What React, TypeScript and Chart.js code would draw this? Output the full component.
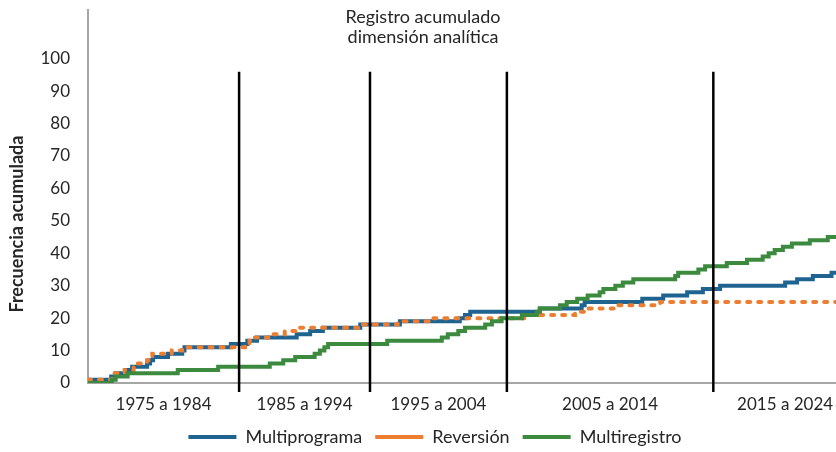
import React, { useEffect, useRef } from 'react';
import { Chart, registerables } from 'chart.js';

Chart.register(...registerables);

// ---- Data ----
const titleLines = ['Registro acumulado', 'dimensión analítica'];
const yAxisTitle = 'Frecuencia acumulada';
const seriesNames = ['Multiprograma', 'Reversión', 'Multiregistro'];
const decadeLabels = ['1975 a 1984', '1985 a 1994', '1995 a 2004', '2005 a 2014', '2015 a 2024'];
// cumulative record position (0-100 visible) where each decade starts / ends
const decadeBounds = [0, 20.2, 37.7, 56.0, 83.6, 102.8];
const yTickValues = [0, 10, 20, 30, 40, 50, 60, 70, 80, 90, 100];
const separatorTop = 96;
const separatorBottom = -2.8;

const multiprogramaX = [0, 3.1, 3.7, 5.2, 5.9, 7.9, 8.3, 8.7, 10.7, 12.6, 12.9, 19.1, 21.3, 22.6, 27.9, 29.7, 31.4, 36.4, 41.7, 49.7, 50.4, 51.1, 60.4, 66.0, 66.4, 74.1, 76.9, 80.1, 82.2, 84.5, 93.2, 94.8, 96.9, 99.4];
const multiprogramaY = [1, 2, 3, 4, 5, 6, 7, 8, 9, 10, 11, 12, 13, 14, 15, 16, 17, 18, 19, 20, 21, 22, 23, 24, 25, 26, 27, 28, 29, 30, 31, 32, 33, 34];

const reversionX = [0, 3.2, 3.5, 4.9, 6.1, 6.3, 7.9, 8.1, 8.6, 11.2, 12.6, 21.0, 21.6, 22.3, 24.1, 26.3, 27.7, 36.1, 41.4, 45.7, 58.7, 65.1, 66.4, 70.5, 76.5];
const reversionY = [1, 2, 3, 4, 5, 6, 7, 8, 9, 10, 11, 12, 13, 14, 15, 16, 17, 18, 19, 20, 21, 22, 23, 24, 25];

const multiregistroX = [0, 3.2, 3.7, 5.3, 12.0, 17.4, 24.3, 26.1, 27.7, 30.3, 31.0, 31.6, 32.1, 40.0, 47.3, 48.1, 49.5, 50.4, 53.1, 54.0, 55.3, 58.0, 60.0, 60.4, 63.1, 64.0, 65.4, 66.8, 68.4, 68.9, 70.5, 71.5, 72.9, 78.5, 78.9, 81.6, 82.5, 85.4, 88.1, 90.2, 91.0, 91.8, 92.9, 94.1, 96.5, 98.9];
const multiregistroY = [0, 1, 2, 3, 4, 5, 6, 7, 8, 9, 10, 11, 12, 13, 14, 15, 16, 17, 18, 19, 20, 21, 22, 23, 24, 25, 26, 27, 28, 29, 30, 31, 32, 33, 34, 35, 36, 37, 38, 39, 40, 41, 42, 43, 44, 45];

// ---- Styles ----
const FONT = 'Lato, "Open Sans", sans-serif';
const TEXT = '#262626';
const AXIS = '#a6a6a6';
const BLUE = '#1f6391';
const ORANGE = '#ed7d31';
const GREEN = '#3b8a3e';

const xEnd = decadeBounds[decadeBounds.length - 1];
const decadeMids = decadeLabels.map((_, i) => (decadeBounds[i] + decadeBounds[i + 1]) / 2);

function toPoints(xs: number[], ys: number[]) {
  const pts = xs.map((x, i) => ({ x, y: ys[i] }));
  pts.push({ x: xEnd, y: ys[ys.length - 1] });
  return pts;
}

const textPlugin = {
  id: 'customTexts',
  afterDraw(chart: any) {
    const { ctx, chartArea, scales } = chart;
    ctx.save();
    ctx.fillStyle = TEXT;
    ctx.textAlign = 'center';
    ctx.textBaseline = 'middle';
    ctx.font = `18px ${FONT}`;
    const cx = chart.width / 2 + 5;
    titleLines.forEach((line, i) => {
      ctx.fillText(line, cx, chartArea.top + 7 + i * 20);
    });
    ctx.font = `bold 18px ${FONT}`;
    const cy = scales.y.getPixelForValue(49);
    ctx.translate(17, cy);
    ctx.rotate(-Math.PI / 2);
    ctx.fillText(yAxisTitle, 0, 0);
    ctx.restore();
  },
};

export default function App() {
  const canvasRef = useRef<HTMLCanvasElement | null>(null);

  useEffect(() => {
    if (!canvasRef.current) return;
    const seriesDatasets = [
      {
        label: seriesNames[0],
        data: toPoints(multiprogramaX, multiprogramaY),
        borderColor: BLUE,
        backgroundColor: BLUE,
        borderWidth: 4,
        order: 3,
      },
      {
        label: seriesNames[1],
        data: toPoints(reversionX, reversionY),
        borderColor: ORANGE,
        backgroundColor: ORANGE,
        borderWidth: 4,
        borderDash: [3, 8],
        borderCapStyle: 'round',
        order: 2,
      },
      {
        label: seriesNames[2],
        data: toPoints(multiregistroX, multiregistroY),
        borderColor: GREEN,
        backgroundColor: GREEN,
        borderWidth: 4,
        order: 1,
      },
    ].map((d) => ({ ...d, stepped: true, pointRadius: 0, fill: false, tension: 0 }));

    const separatorDatasets = decadeBounds.slice(1, -1).map((b, i) => ({
      label: 'sep' + i,
      data: [
        { x: b, y: separatorBottom },
        { x: b, y: separatorTop },
      ],
      borderColor: '#000000',
      backgroundColor: '#000000',
      borderWidth: 2.5,
      pointRadius: 0,
      fill: false,
      clip: false,
      order: 0,
    }));

    const chart = new Chart(canvasRef.current, {
      type: 'line',
      data: { datasets: [...seriesDatasets, ...separatorDatasets] as any },
      options: {
        animation: false,
        responsive: true,
        maintainAspectRatio: false,
        layout: { padding: { top: 10, left: 34, right: 0, bottom: -4 } },
        plugins: {
          title: { display: false },
          tooltip: { enabled: false },
          legend: {
            position: 'bottom',
            labels: {
              usePointStyle: true,
              pointStyle: 'line',
              pointStyleWidth: 48,
              color: TEXT,
              font: { family: FONT, size: 18 },
              padding: 13,
              filter: (item: any) => item.datasetIndex < seriesNames.length,
              sort: (a: any, b: any) => a.datasetIndex - b.datasetIndex,
            },
          },
        },
        scales: {
          x: {
            type: 'linear',
            min: 0,
            max: 100,
            grid: { display: false, drawTicks: false },
            border: { display: true, color: AXIS, width: 2 },
            afterBuildTicks: (axis: any) => {
              axis.ticks = decadeMids.map((v) => ({ value: v }));
            },
            afterFit: (axis: any) => {
              axis.height = 32;
              axis.paddingLeft = 0;
              axis.paddingRight = 0;
            },
            ticks: {
              autoSkip: false,
              maxRotation: 0,
              padding: 11,
              color: TEXT,
              font: { family: FONT, size: 17 },
              callback: (_v: any, i: number) => decadeLabels[i],
            },
          },
          y: {
            type: 'linear',
            min: 0,
            max: 115,
            grid: { display: false, drawTicks: false },
            border: { display: true, color: AXIS, width: 2 },
            afterBuildTicks: (axis: any) => {
              axis.ticks = yTickValues.map((v) => ({ value: v }));
            },
            afterFit: (axis: any) => {
              axis.width = 54;
              axis.paddingTop = 0;
              axis.paddingBottom = 0;
            },
            ticks: {
              padding: 18,
              color: TEXT,
              font: { family: FONT, size: 17 },
            },
          },
        },
      } as any,
      plugins: [textPlugin],
    });
    return () => chart.destroy();
  }, []);

  return (
    <div style={{ position: 'absolute', left: 0, top: 0, width: 836, height: 452, background: '#ffffff' }}>
      <canvas ref={canvasRef} />
    </div>
  );
}
